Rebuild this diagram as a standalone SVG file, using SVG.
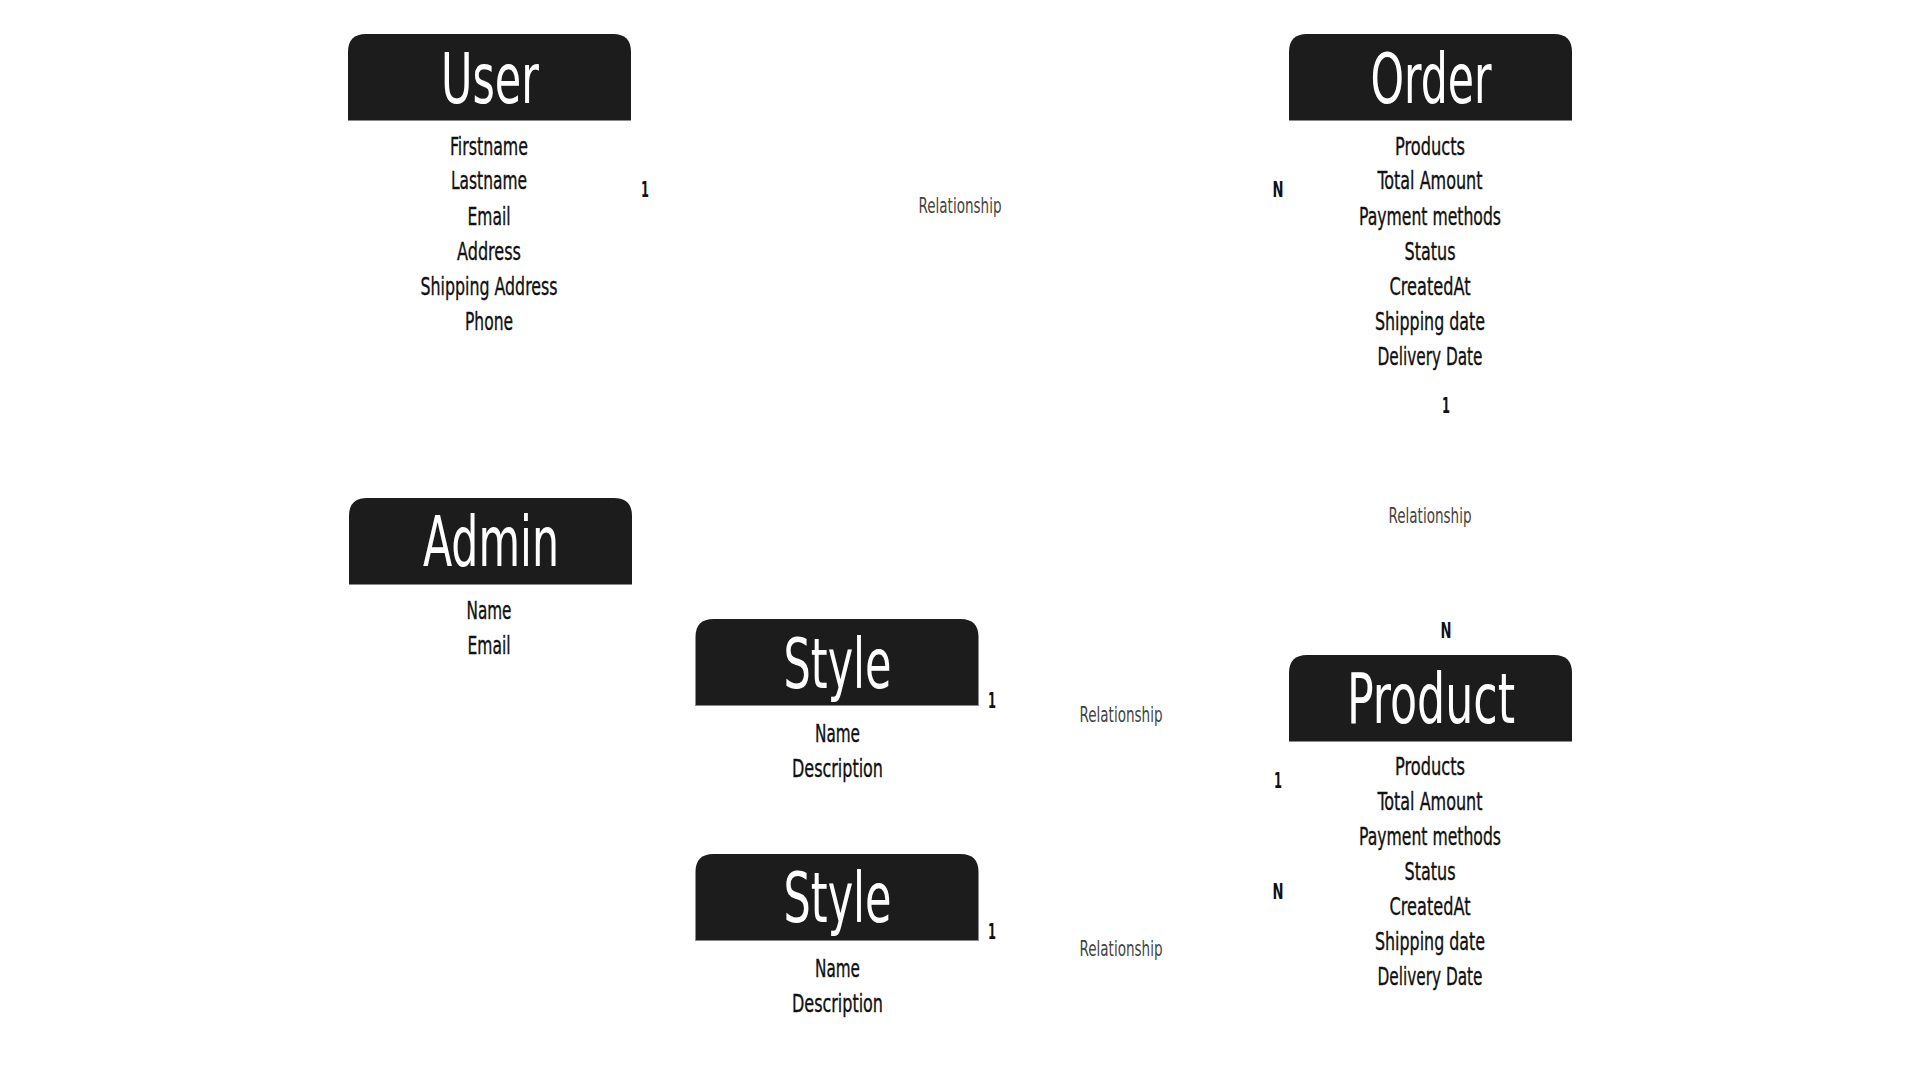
<svg xmlns="http://www.w3.org/2000/svg" width="1920" height="1080" viewBox="0 0 1920 1080">
  <style>
    text { font-family: "DejaVu Sans Condensed", "Liberation Sans", sans-serif; text-anchor: middle; }
    .hdr { fill: #1c1c1c; }
    .hdr-edge { stroke: #8a8a8a; stroke-width: 1; }
    .title { fill: #ffffff; font-size: 70px; }
    .attr { fill: #111111; stroke: #111111; stroke-width: 0.35px; font-size: 24px; }
    .card { fill: #111111; font-size: 22px; font-weight: bold; }
    .rel { fill: #444444; font-size: 21px; }
  </style>
  <defs>
    <path id="hdrShape" d="M0,87 V18 Q0,0 18,0 H265 Q283,0 283,18 V87 Z"/>
  </defs>
  <rect x="0" y="0" width="1920" height="1080" fill="#ffffff"/>

  <g id="node-user">
    <use href="#hdrShape" class="hdr" transform="translate(348,34)"/>
    <line class="hdr-edge" x1="348" y1="120.5" x2="631" y2="120.5"/>
    <text class="title" x="490" y="103" textLength="98" lengthAdjust="spacingAndGlyphs">User</text>
    <text class="attr" x="489" y="155" textLength="78" lengthAdjust="spacingAndGlyphs">Firstname</text>
    <text class="attr" x="489" y="189" textLength="76" lengthAdjust="spacingAndGlyphs">Lastname</text>
    <text class="attr" x="489" y="225" textLength="43" lengthAdjust="spacingAndGlyphs">Email</text>
    <text class="attr" x="489" y="260" textLength="64" lengthAdjust="spacingAndGlyphs">Address</text>
    <text class="attr" x="489" y="295" textLength="137" lengthAdjust="spacingAndGlyphs">Shipping Address</text>
    <text class="attr" x="489" y="330" textLength="48" lengthAdjust="spacingAndGlyphs">Phone</text>
  </g>

  <g id="node-order">
    <use href="#hdrShape" class="hdr" transform="translate(1289,34)"/>
    <line class="hdr-edge" x1="1289" y1="120.5" x2="1572" y2="120.5"/>
    <text class="title" x="1431" y="103" textLength="121" lengthAdjust="spacingAndGlyphs">Order</text>
    <text class="attr" x="1430" y="155" textLength="70" lengthAdjust="spacingAndGlyphs">Products</text>
    <text class="attr" x="1430" y="189" textLength="105" lengthAdjust="spacingAndGlyphs">Total Amount</text>
    <text class="attr" x="1430" y="225" textLength="142" lengthAdjust="spacingAndGlyphs">Payment methods</text>
    <text class="attr" x="1430" y="260" textLength="51" lengthAdjust="spacingAndGlyphs">Status</text>
    <text class="attr" x="1430" y="295" textLength="81" lengthAdjust="spacingAndGlyphs">CreatedAt</text>
    <text class="attr" x="1430" y="330" textLength="110" lengthAdjust="spacingAndGlyphs">Shipping date</text>
    <text class="attr" x="1430" y="365" textLength="105" lengthAdjust="spacingAndGlyphs">Delivery Date</text>
  </g>

  <g id="node-admin">
    <use href="#hdrShape" class="hdr" transform="translate(349,498)"/>
    <line class="hdr-edge" x1="349" y1="584.5" x2="632" y2="584.5"/>
    <text class="title" x="491" y="566" textLength="136" lengthAdjust="spacingAndGlyphs">Admin</text>
    <text class="attr" x="489" y="619" textLength="45" lengthAdjust="spacingAndGlyphs">Name</text>
    <text class="attr" x="489" y="654" textLength="43" lengthAdjust="spacingAndGlyphs">Email</text>
  </g>

  <g id="node-style-1">
    <use href="#hdrShape" class="hdr" transform="translate(695.5,619)"/>
    <line class="hdr-edge" x1="695.5" y1="705.5" x2="978.5" y2="705.5"/>
    <text class="title" x="837.5" y="688" textLength="108" lengthAdjust="spacingAndGlyphs">Style</text>
    <text class="attr" x="837.5" y="741.5" textLength="45" lengthAdjust="spacingAndGlyphs">Name</text>
    <text class="attr" x="837.5" y="777" textLength="91" lengthAdjust="spacingAndGlyphs">Description</text>
  </g>

  <g id="node-style-2">
    <use href="#hdrShape" class="hdr" transform="translate(695.5,854)"/>
    <line class="hdr-edge" x1="695.5" y1="940.5" x2="978.5" y2="940.5"/>
    <text class="title" x="837.5" y="922" textLength="108" lengthAdjust="spacingAndGlyphs">Style</text>
    <text class="attr" x="837.5" y="976.5" textLength="45" lengthAdjust="spacingAndGlyphs">Name</text>
    <text class="attr" x="837.5" y="1012" textLength="91" lengthAdjust="spacingAndGlyphs">Description</text>
  </g>

  <g id="node-product">
    <use href="#hdrShape" class="hdr" transform="translate(1289,655)"/>
    <line class="hdr-edge" x1="1289" y1="741.5" x2="1572" y2="741.5"/>
    <text class="title" x="1431" y="723" textLength="168" lengthAdjust="spacingAndGlyphs">Product</text>
    <text class="attr" x="1430" y="775" textLength="70" lengthAdjust="spacingAndGlyphs">Products</text>
    <text class="attr" x="1430" y="810" textLength="105" lengthAdjust="spacingAndGlyphs">Total Amount</text>
    <text class="attr" x="1430" y="845" textLength="142" lengthAdjust="spacingAndGlyphs">Payment methods</text>
    <text class="attr" x="1430" y="880" textLength="51" lengthAdjust="spacingAndGlyphs">Status</text>
    <text class="attr" x="1430" y="915" textLength="81" lengthAdjust="spacingAndGlyphs">CreatedAt</text>
    <text class="attr" x="1430" y="950" textLength="110" lengthAdjust="spacingAndGlyphs">Shipping date</text>
    <text class="attr" x="1430" y="985" textLength="105" lengthAdjust="spacingAndGlyphs">Delivery Date</text>
  </g>

  <g id="connectors">
    <g id="rel-user-order">
      <text class="card" x="645" y="197" textLength="8" lengthAdjust="spacingAndGlyphs">1</text>
      <text class="rel" x="960" y="213" textLength="83" lengthAdjust="spacingAndGlyphs">Relationship</text>
      <text class="card" x="1278" y="197" textLength="11" lengthAdjust="spacingAndGlyphs">N</text>
    </g>
    <g id="rel-order-product">
      <text class="card" x="1446" y="413" textLength="8" lengthAdjust="spacingAndGlyphs">1</text>
      <text class="rel" x="1430" y="523" textLength="83" lengthAdjust="spacingAndGlyphs">Relationship</text>
      <text class="card" x="1446" y="638" textLength="11" lengthAdjust="spacingAndGlyphs">N</text>
    </g>
    <g id="rel-style1-product">
      <text class="card" x="992" y="708" textLength="8" lengthAdjust="spacingAndGlyphs">1</text>
      <text class="rel" x="1121" y="722" textLength="83" lengthAdjust="spacingAndGlyphs">Relationship</text>
      <text class="card" x="1278" y="788" textLength="8" lengthAdjust="spacingAndGlyphs">1</text>
    </g>
    <g id="rel-style2-product">
      <text class="card" x="992" y="939" textLength="8" lengthAdjust="spacingAndGlyphs">1</text>
      <text class="rel" x="1121" y="956" textLength="83" lengthAdjust="spacingAndGlyphs">Relationship</text>
      <text class="card" x="1278" y="899" textLength="11" lengthAdjust="spacingAndGlyphs">N</text>
    </g>
  </g>
</svg>
